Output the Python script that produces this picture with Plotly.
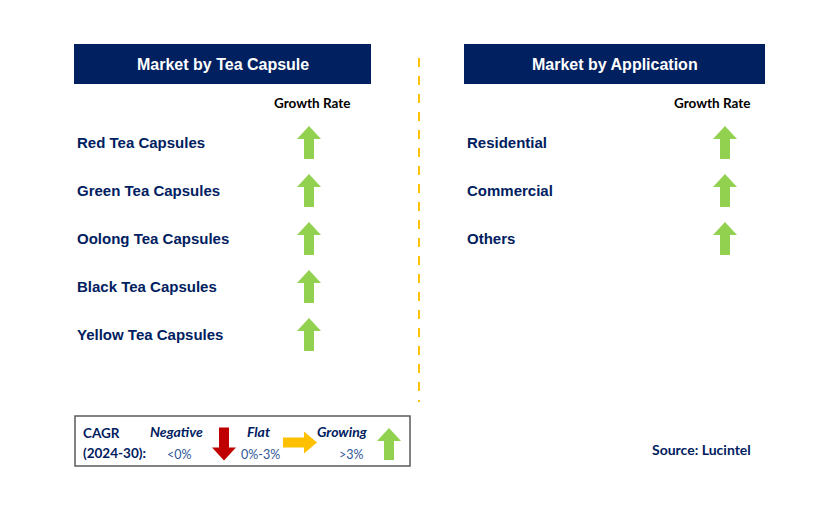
import plotly.graph_objects as go

# Data
tea_capsules = ["Red Tea Capsules", "Green Tea Capsules", "Oolong Tea Capsules",
                "Black Tea Capsules", "Yellow Tea Capsules"]
tea_growth = ["Growing", "Growing", "Growing", "Growing", "Growing"]

applications = ["Residential", "Commercial", "Others"]
app_growth = ["Growing", "Growing", "Growing"]

legend_labels = ["Negative", "Flat", "Growing"]
legend_ranges = ["<0%", "0%-3%", ">3%"]

NAVY = "#002060"
GREEN = "#92D050"
RED = "#C00000"
YELLOW = "#FFC000"
TEXT_BLUE = "#2F5597"
ARROW_COLOR = {"Growing": GREEN, "Negative": RED, "Flat": YELLOW}

# the page body has an 8px margin, so the figure sits at (8, 8) in the window
OFF = 8


def arrow_path(kind, cx, cy, length=33, head=12, shaft=5, head_len=13):
    """polygon points for a block arrow centred on (cx, cy) in pixel coords"""
    h = length / 2
    if kind == "Growing":
        xs = [cx, cx + head, cx + shaft, cx + shaft, cx - shaft, cx - shaft, cx - head, cx]
        ys = [cy - h, cy - h + head_len, cy - h + head_len, cy + h, cy + h,
              cy - h + head_len, cy - h + head_len, cy - h]
    elif kind == "Negative":
        xs = [cx, cx + head, cx + shaft, cx + shaft, cx - shaft, cx - shaft, cx - head, cx]
        ys = [cy + h, cy + h - head_len, cy + h - head_len, cy - h, cy - h,
              cy + h - head_len, cy + h - head_len, cy + h]
    else:
        ys = [cy, cy + head, cy + shaft, cy + shaft, cy - shaft, cy - shaft, cy - head, cy]
        xs = [cx + h, cx + h - head_len, cx + h - head_len, cx - h, cx - h,
              cx + h - head_len, cx + h - head_len, cx + h]
    return xs, ys


fig = go.Figure()


def add_arrow(kind, cx, cy, **kw):
    xs, ys = arrow_path(kind, cx, cy, **kw)
    fig.add_trace(go.Scatter(x=xs, y=ys, mode="lines", fill="toself",
                             fillcolor=ARROW_COLOR[kind], line=dict(width=0),
                             hoverinfo="skip", showlegend=False))


annotations = []


def text(x, y, s, size=15, color=NAVY, family="Liberation Sans", bold=True,
         italic=False, xanchor="left"):
    if bold:
        s = "<b>" + s + "</b>"
    if italic:
        s = "<i>" + s + "</i>"
    annotations.append(dict(x=x, y=y, text=s, showarrow=False, xanchor=xanchor,
                            yanchor="middle", font=dict(size=size, color=color, family=family)))


# panels
panels = [
    dict(title="Market by Tea Capsule", x0=74, x1=371, cats=tea_capsules,
         growth=tea_growth, tx=75, ax=309, gx=312),
    dict(title="Market by Application", x0=464, x1=765, cats=applications,
         growth=app_growth, tx=465, ax=725, gx=712),
]

shapes = []
for p in panels:
    shapes.append(dict(type="rect", x0=p["x0"], x1=p["x1"], y0=44, y1=84,
                       fillcolor=NAVY, line=dict(width=0), layer="below"))
    text((p["x0"] + p["x1"]) / 2, 64.5, p["title"], size=16, color="white",
         xanchor="center")
    text(p["gx"], 103, "Growth Rate", size=13.5, color="black", family="Lato",
         xanchor="center")
    for i, (cat, g) in enumerate(zip(p["cats"], p["growth"])):
        y = 142 + 48 * i
        text(p["tx"], y, cat, size=15)
        add_arrow(g, p["ax"], y + 0.5)

# dashed divider
shapes.append(dict(type="line", x0=419, x1=419, y0=58, y1=402,
                   line=dict(color=YELLOW, width=2, dash="dash")))

# legend box
shapes.append(dict(type="rect", x0=75, x1=410, y0=416, y1=466, layer="below",
                   line=dict(color="#595959", width=1.5)))
text(81, 433, "CAGR", size=13.5, family="Lato")
text(81, 453, "(2024-30):", size=13.5, family="Lato")

label_x = [176, 258, 342]
range_x = [179, 260, 351]
arrow_pos = [(224, 444, dict(length=33)), (300, 442.5, dict(length=34, head=11)),
             (389, 444, dict(length=32))]
for lab, rng, lx, rx, (axx, ayy, kw) in zip(legend_labels, legend_ranges, label_x,
                                            range_x, arrow_pos):
    text(lx, 431, lab, size=14, family="Lato", italic=True, xanchor="center")
    text(rx, 454, rng, size=12.5, family="Lato", bold=False, color=TEXT_BLUE,
         xanchor="center")
    add_arrow(lab, axx, ayy, **kw)

text(701, 449, "Source: Lucintel", size=14, family="Lato", xanchor="center")

fig.update_layout(
    width=829 - OFF, height=513 - OFF,
    margin=dict(l=0, r=0, t=0, b=0),
    plot_bgcolor="white", paper_bgcolor="white",
    xaxis=dict(range=[OFF, 829], visible=False, fixedrange=True),
    yaxis=dict(range=[513, OFF], visible=False, fixedrange=True),
    shapes=shapes, annotations=annotations, showlegend=False,
)

fig.write_html("out.html")
